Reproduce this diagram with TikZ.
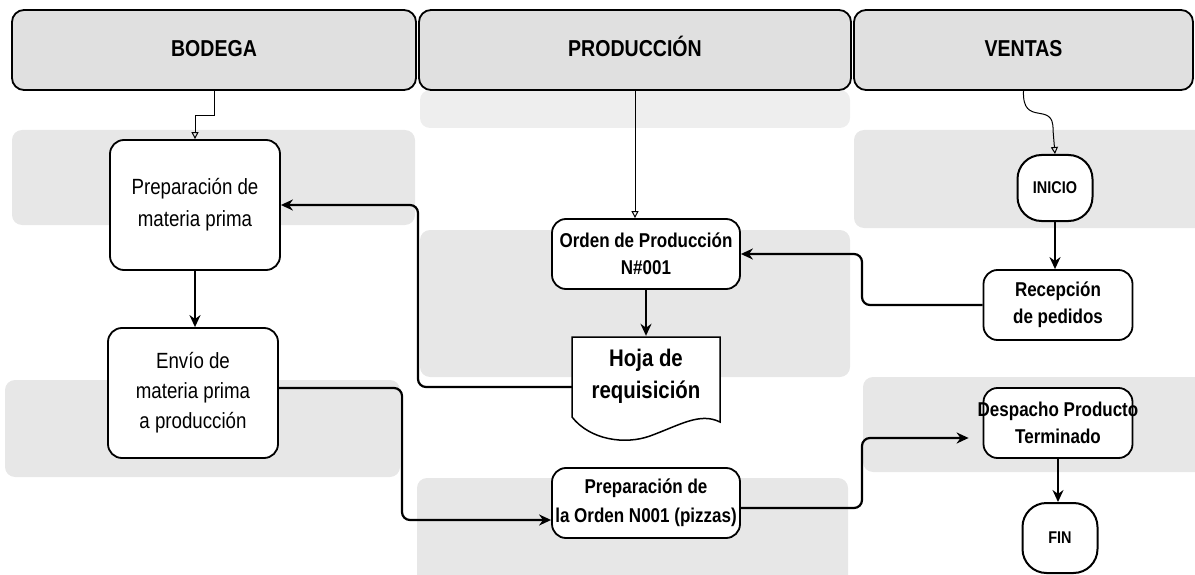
\documentclass[tikz,border=0pt]{standalone}
\usepackage{fontspec}
\setmainfont{Liberation Sans}[FakeStretch=0.85]
\usetikzlibrary{arrows.meta,calc}
\definecolor{lanegray}{RGB}{224,224,224}
\definecolor{bandgray}{RGB}{231,231,231}
\definecolor{bandlight}{RGB}{238,238,238}

\begin{document}
\begin{tikzpicture}[x=1pt, y=-1pt,
  lane/.style={draw, line width=1.8pt, rounded corners=12pt, fill=lanegray, minimum height=80pt, text height=17pt, text depth=4pt, font=\fontsize{23}{27}\selectfont\bfseries},
  band/.style={fill=bandgray, rounded corners=10pt},
  proc/.style={draw, line width=1.8pt, rounded corners=14pt, fill=white, align=center, inner sep=2pt},
  term/.style={draw, line width=2pt, rounded corners=24pt, fill=white, minimum width=75pt, minimum height=66pt, font=\fontsize{17}{20}\selectfont\bfseries},
  flow/.style={line width=2.2pt, -{Stealth[length=12pt,width=11pt]}, rounded corners=8pt},
  feed/.style={line width=1pt, -{Triangle[open,length=7pt,width=7pt]}}]
  \useasboundingbox (0,0) rectangle (1195,575);

  \fill[band] (12,130) rectangle (415,225);
  \fill[band] (5,380) rectangle (400,477);
  \fill[band, fill=bandlight] (420,90) rectangle (850,128);
  \fill[band] (420,230) rectangle (850,377);
  \fill[band] (417,478) rectangle (848,585);
  \fill[band] (854,130) rectangle (1205,228);
  \fill[band] (863,377) rectangle (1205,472);

  \node[lane, minimum width=404pt] (bodega) at (214,50) {BODEGA};
  \node[lane, minimum width=432pt] (produccion) at (635,50) {PRODUCCIÓN};
  \node[lane, minimum width=339pt] (ventas) at (1023.5,50) {VENTAS};

  \node[proc, minimum width=170pt, minimum height=130pt, font=\fontsize{22}{32}\selectfont] (prep) at (195,205) {Preparación de\\materia prima};
  \node[proc, minimum width=170pt, minimum height=130pt, font=\fontsize{22}{30}\selectfont] (envio) at (193,393) {Envío de\\materia prima\\a producción};

  \node[proc, minimum width=188pt, minimum height=70pt, font=\fontsize{20}{27}\selectfont\bfseries] (orden) at (646,254) {Orden de Producción\\N\#001};
  \draw[line width=1.5pt, fill=white] (572,417) -- (572,337) -- (720,337) -- (720,422)
    .. controls (700,412) and (680,425) .. (650,436) .. controls (625,445) and (590,440) .. (572,417);
  \node[align=center, minimum width=148pt, minimum height=80pt, font=\fontsize{24}{32}\selectfont\bfseries] (hoja) at (646,376) {Hoja de\\requisición};
  \node[proc, minimum width=188pt, minimum height=70pt, font=\fontsize{20}{29}\selectfont\bfseries] (pedido) at (646,503) {Preparación de\\la Orden N001 (pizzas)};

  \node[term] (inicio) at (1055,188) {INICIO};
  \node[proc, minimum width=149pt, minimum height=70pt, font=\fontsize{20}{27}\selectfont\bfseries] (recep) at (1058,305) {Recepción\\de pedidos};
  \node[proc, minimum width=149pt, minimum height=70pt, font=\fontsize{20}{27}\selectfont\bfseries] (despacho) at (1058,423) {\makebox[140pt]{Despacho Producto}\\Terminado};
  \node[term, minimum height=70pt] (fin) at (1060,538) {FIN};

  \draw[feed] (bodega.south) -- ++(0,25) -| (prep.north);
  \draw[feed] (produccion.south) -- (produccion.south |- orden.north);
  \draw[feed] (ventas.south) .. controls (1022,128) and (1054,100) .. (1053,130) -- (inicio.north);
  \draw[flow] (inicio.south) -- (inicio.south |- recep.north);
  \draw[flow] (recep.west) -| (862,280) |- (orden.east);
  \draw[flow] (orden.south) -- (orden.south |- hoja.north);
  \draw[flow] ([yshift=-11pt]hoja.west) -| (418,300) |- (prep.east);
  \draw[flow] (prep.south) -- (prep.south |- envio.north);
  \draw[flow] ([yshift=5pt]envio.east) -| (402,450) |- ([yshift=-17pt]pedido.west);
  \draw[flow, shorten >=14pt] ([yshift=-5pt]pedido.east) -| (862,460) |- ([yshift=-15pt]despacho.west);
  \draw[flow, line width=1.5pt] (despacho.south) -- (despacho.south |- fin.north);
\end{tikzpicture}
\end{document}
